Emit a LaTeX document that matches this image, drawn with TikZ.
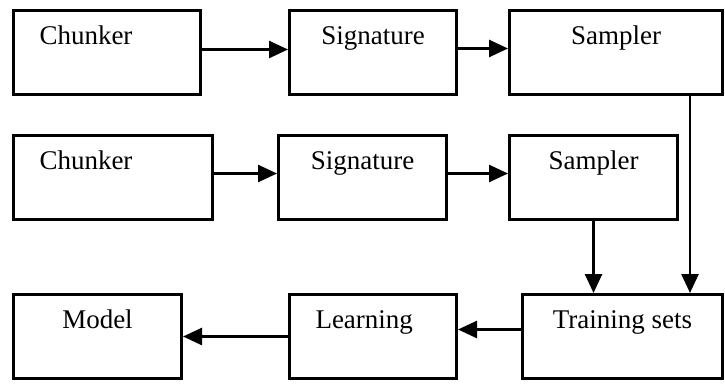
\documentclass[tikz,border=0pt]{standalone}
\usepackage{fontspec}
\setmainfont{Liberation Serif}
\usetikzlibrary{arrows.meta}

\begin{document}
\begin{tikzpicture}[x=1pt,y=-1pt,
    box/.style={draw, line width=3pt, inner sep=0pt, anchor=north west,
      text height=34pt, text depth=50pt, font=\fontsize{27}{30}\selectfont},
    leftbox/.style={box, inner xsep=26pt, align=left, text width=#1},
    arr/.style={line width=2.6pt, -{Triangle[length=19pt,width=17pt]}}]
  % Page size:
  \useasboundingbox (0,0) rectangle (725,385);

  % Boxes:
  % First pipeline
  \node [leftbox=135pt]           (chunkA) at (12,9)    {Chunker};
  \node [box, minimum width=167pt] (sigA)  at (288,9)   {Signature};
  \node [box, minimum width=213pt] (sampA) at (508,9)   {Sampler};
  % Second pipeline
  \node [leftbox=147pt]           (chunkB) at (12,134)  {Chunker};
  \node [box, minimum width=168pt] (sigB)  at (277,134) {Signature};
  \node [box, minimum width=168pt] (sampB) at (508,134) {Sampler};
  % Bottom row
  \node [box, minimum width=168pt] (model) at (12,293)  {Model};
  \node [leftbox=115pt]            (learn) at (288,293) {Learning};
  \node [box, minimum width=200pt] (train) at (521,293) {Training sets};

  % Arrows:
  \draw [arr] ([yshift=3pt]chunkA.east) -- ([yshift=3pt]sigA.west);
  \draw [arr] ([yshift=4pt]sigA.east)   -- ([yshift=4pt]sampA.west);
  \draw [arr] ([yshift=4pt]chunkB.east) -- ([yshift=4pt]sigB.west);
  \draw [arr] ([yshift=4pt]sigB.east)   -- ([yshift=4pt]sampB.west);
  % Both samplers feed the training sets
  \coordinate (drop) at ([xshift=74pt]sampA.south);
  \draw [arr] (drop) -- (drop |- train.north);
  \draw [arr] (sampB.south) -- (sampB.south |- train.north);
  % Bottom row runs right to left
  \draw [arr] ([yshift=7pt]train.west) -- ([yshift=7pt]learn.east);
  \draw [arr] (learn.west) -- (model.east);
\end{tikzpicture}
\end{document}
